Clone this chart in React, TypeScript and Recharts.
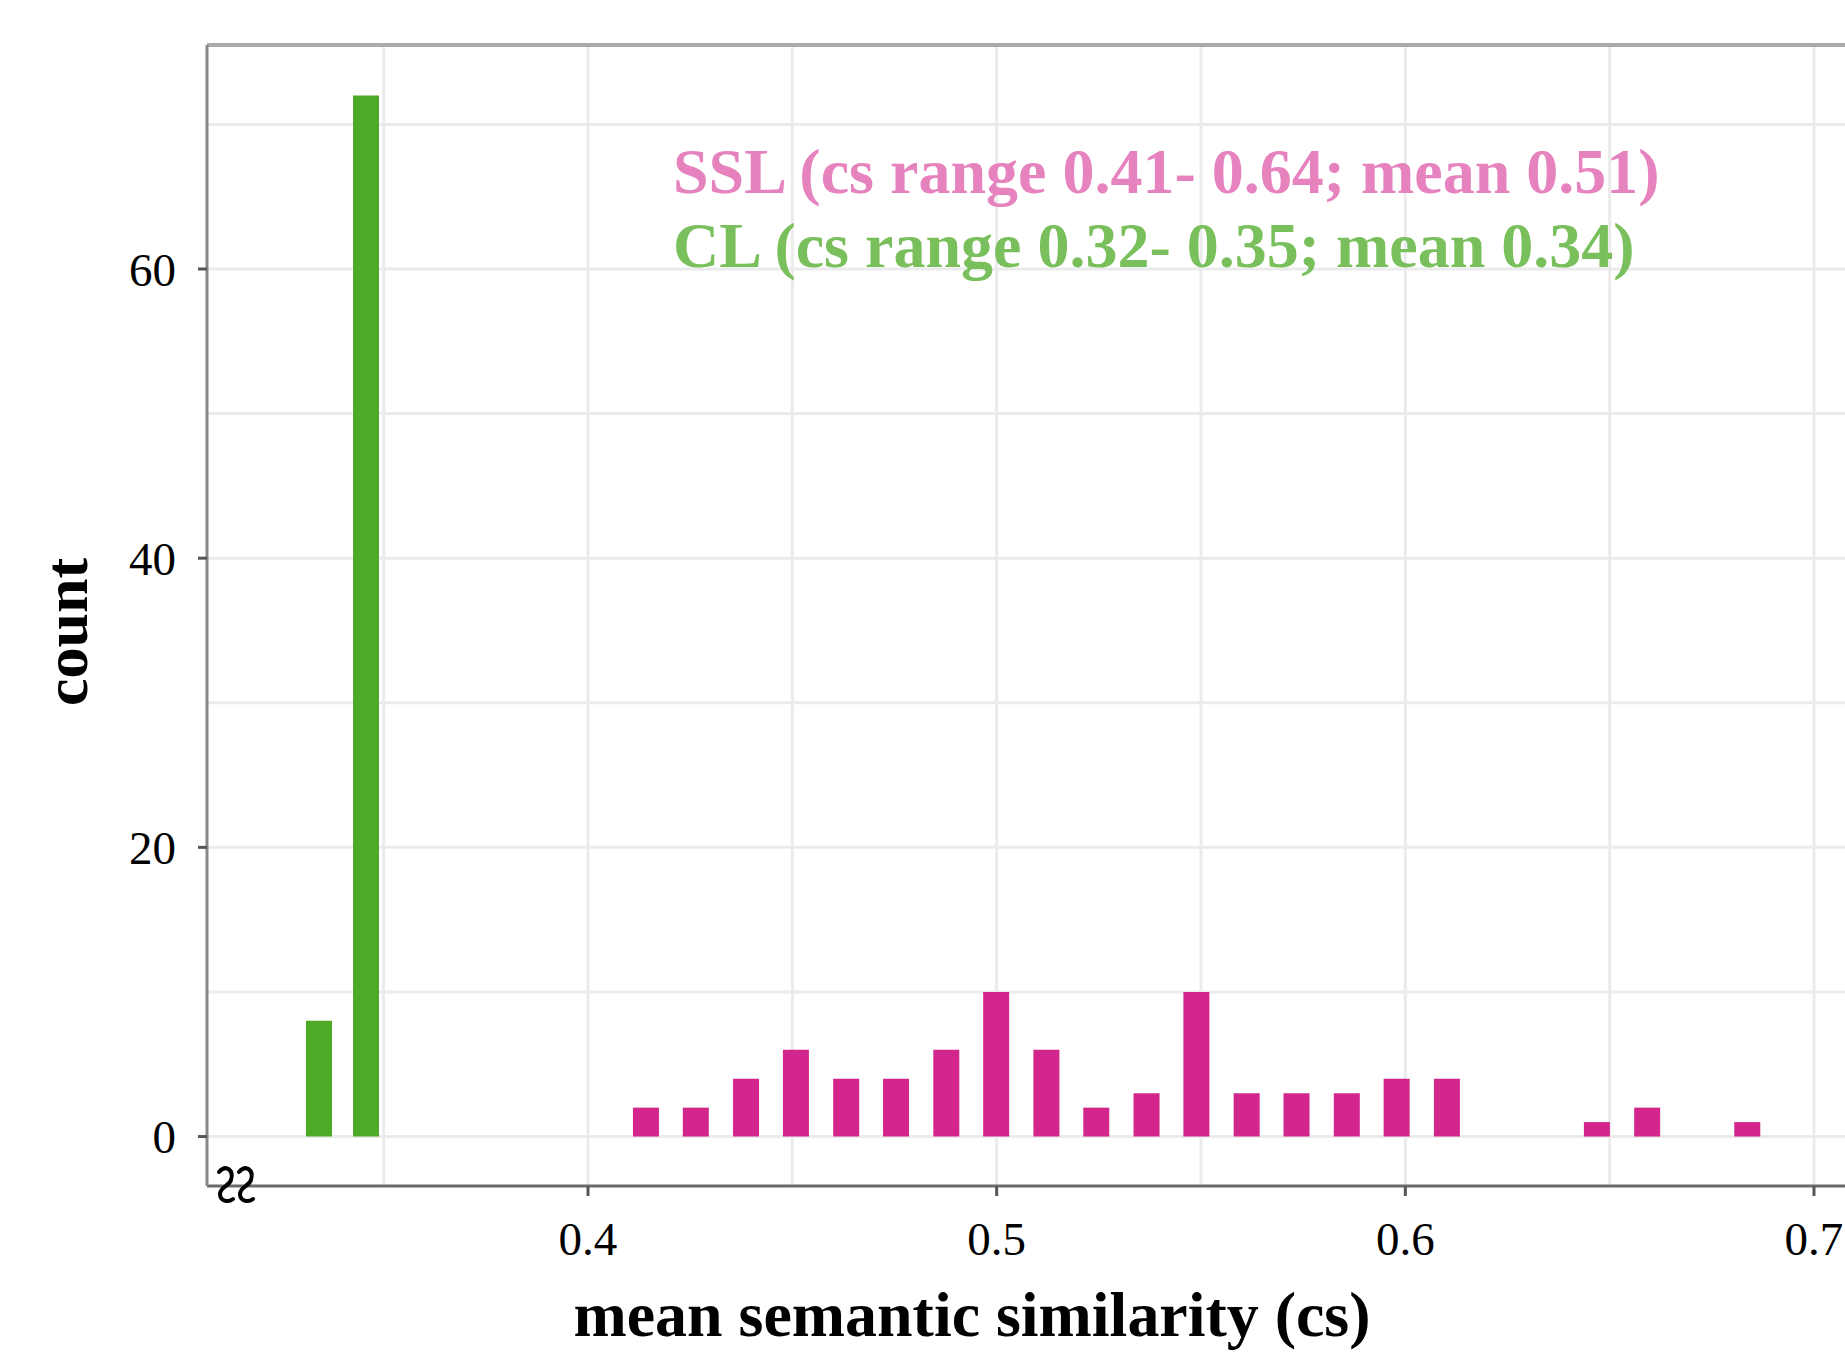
import React from 'react';
import {
    ComposedChart,
    Bar,
    XAxis,
    YAxis,
    CartesianGrid,
    ReferenceLine
} from 'recharts';

// Histogram bins (bin centre -> count)
const CL_X = [0.3343, 0.3458];
const CL_COUNTS = [8, 72];

const SSL_X = [
    0.4143, 0.4265, 0.4388, 0.4510, 0.4633, 0.4755, 0.4878, 0.5000, 0.5123, 0.5245,
    0.5368, 0.5490, 0.5613, 0.5735, 0.5858, 0.5980, 0.6103, 0.6470, 0.6593, 0.6838
];
const SSL_COUNTS = [2, 2, 4, 6, 4, 4, 6, 10, 6, 2, 3, 10, 3, 3, 3, 4, 4, 1, 2, 1];

const X_TICKS = [0.4, 0.5, 0.6, 0.7];
const X_GRID = [0.35, 0.4, 0.45, 0.5, 0.55, 0.6, 0.65, 0.7];
const Y_TICKS = [0, 20, 40, 60];
const Y_GRID = [0, 10, 20, 30, 40, 50, 60, 70];

const X_DOMAIN: [number, number] = [0.30677, 0.70759];
const Y_DOMAIN: [number, number] = [-3.42, 75.49];

const SSL_COLOR = '#d2268c';
const CL_COLOR = '#4ea926';
const SSL_TEXT = '#e683bf';
const CL_TEXT = '#79bf5b';

const FONT = '"Liberation Serif", "Times New Roman", serif';

const W = 1845;
const H = 1354;

export default function App() {
    const data = [
        ...CL_X.map((x, i) => ({ x, cl: CL_COUNTS[i] })),
        ...SSL_X.map((x, i) => ({ x, ssl: SSL_COUNTS[i] }))
    ].sort((a, b) => a.x - b.x);

    const tickStyle = { fill: '#000', fontSize: 47, fontFamily: FONT };

    // axis-break squiggle near the origin
    const squiggle = (x0: number) =>
        `M ${x0 + 1} 1172 C ${x0 + 8} 1164 ${x0 + 16} 1170 ${x0 + 13} 1180 ` +
        `C ${x0 + 11} 1186 ${x0 + 2} 1187 ${x0 + 2} 1194 ` +
        `C ${x0 + 2} 1201 ${x0 + 10} 1203 ${x0 + 15} 1199`;

    return (
        <div style={{ position: 'absolute', left: 0, top: 0, width: W, height: H, background: '#fff' }}>
            <ComposedChart
                width={W}
                height={H}
                data={data}
                margin={{ top: 45, right: 0, bottom: 68, left: 107 }}
            >
                <CartesianGrid
                    stroke="#ebebeb"
                    strokeWidth={3}
                    horizontalValues={Y_GRID}
                    verticalValues={X_GRID}
                />
                <XAxis
                    type="number"
                    dataKey="x"
                    domain={X_DOMAIN}
                    allowDataOverflow
                    ticks={X_TICKS}
                    interval={0}
                    tickFormatter={(v: number) => v.toFixed(1)}
                    height={100}
                    tick={tickStyle}
                    tickSize={10}
                    tickMargin={26}
                    axisLine={{ stroke: '#6a6a6a', strokeWidth: 3 }}
                    tickLine={{ stroke: '#555', strokeWidth: 3 }}
                />
                <YAxis
                    type="number"
                    domain={Y_DOMAIN}
                    allowDataOverflow
                    ticks={Y_TICKS}
                    interval={0}
                    width={100}
                    tick={tickStyle}
                    tickSize={9}
                    tickMargin={22}
                    axisLine={{ stroke: '#888', strokeWidth: 3 }}
                    tickLine={{ stroke: '#555', strokeWidth: 3 }}
                />
                <ReferenceLine y={Y_DOMAIN[1]} stroke="#aaa" strokeWidth={4} ifOverflow="extendDomain" />
                <Bar dataKey="cl" stackId="h" fill={CL_COLOR} barSize={26} isAnimationActive={false} />
                <Bar dataKey="ssl" stackId="h" fill={SSL_COLOR} barSize={26} isAnimationActive={false} />
            </ComposedChart>

            <svg
                width={W}
                height={H}
                style={{ position: 'absolute', left: 0, top: 0, pointerEvents: 'none' }}
            >
                <text x={673} y={193} fill={SSL_TEXT} fontSize={64} fontWeight="bold" fontFamily={FONT}>
                    SSL (cs range 0.41- 0.64; mean 0.51)
                </text>
                <text x={673} y={267} fill={CL_TEXT} fontSize={64} fontWeight="bold" fontFamily={FONT}>
                    CL (cs range 0.32- 0.35; mean 0.34)
                </text>
                <text
                    x={87}
                    y={632}
                    transform="rotate(-90, 87, 632)"
                    textAnchor="middle"
                    fontSize={62}
                    fontWeight="bold"
                    fontFamily={FONT}
                    fill="#000"
                >
                    count
                </text>
                <text
                    x={972}
                    y={1336}
                    textAnchor="middle"
                    fontSize={64}
                    fontWeight="bold"
                    fontFamily={FONT}
                    fill="#000"
                    textLength={797}
                    lengthAdjust="spacingAndGlyphs"
                >
                    mean semantic similarity (cs)
                </text>
                <path d={squiggle(218)} fill="none" stroke="#000" strokeWidth={4} strokeLinecap="round" />
                <path d={squiggle(238)} fill="none" stroke="#000" strokeWidth={4} strokeLinecap="round" />
            </svg>
        </div>
    );
}
